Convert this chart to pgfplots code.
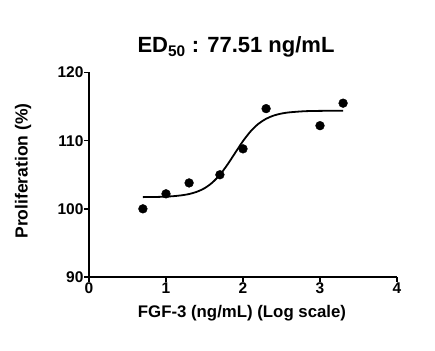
\documentclass[border=0pt]{standalone}
\usepackage{fontspec}
\setmainfont{Liberation Sans}
\usepackage{pgfplots}
\pgfplotsset{compat=1.18}
\begin{document}
\begin{tikzpicture}[x=1pt,y=1pt]
\path (0,0) rectangle (435,350);
\begin{axis}[
  at={(89pt,73pt)}, anchor=south west,
  scale only axis, width=308pt, height=204.5pt,
  xmin=0, xmax=4, ymin=90, ymax=120,
  xtick={0,1,2,3,4}, ytick={90,100,110,120},
  axis x line*=bottom, axis y line*=left,
  axis line style={line width=1.8pt, -},
  tick style={line width=1.5pt, black},
  tick align=outside, major tick length=5pt,
  x tick label style={font=\fontsize{15.5}{16}\selectfont\bfseries, yshift=3pt},
  y tick label style={font=\fontsize{15.5}{16}\selectfont\bfseries, xshift=3pt},
  /pgf/number format/assume math mode=true,
  clip=false,
]
\addplot[black, line width=1.8pt, smooth] coordinates {
(0.7,101.72) (0.9,101.75) (1.0,101.79) (1.1,101.86) (1.2,101.98) (1.3,102.17)
(1.4,102.50) (1.5,103.02) (1.6,103.84) (1.7,105.00) (1.8,106.52) (1.9,108.24)
(2.0,109.94) (2.1,111.38) (2.2,112.47) (2.3,113.21) (2.4,113.69) (2.5,113.98)
(2.6,114.15) (2.8,114.32) (3.0,114.37) (3.3,114.40)
};
\addplot[only marks, mark=*, mark size=4.4pt, black] coordinates {
(0.7,100.0) (1.0,102.2) (1.3,103.8) (1.7,105.0) (2.0,108.8) (2.3,114.7) (3.0,112.2) (3.3,115.5)
};
\end{axis}
\node[font=\fontsize{22}{24}\selectfont\bfseries] at (236,303) {ED\textsubscript{50} : 77.51 ng/mL};
\node[font=\fontsize{16.8}{18}\selectfont\bfseries] at (242,37) {FGF-3 (ng/mL) (Log scale)};
\node[font=\fontsize{17.5}{19}\selectfont\bfseries, rotate=90] at (23,179) {Proliferation (\%)};
\end{tikzpicture}
\end{document}
